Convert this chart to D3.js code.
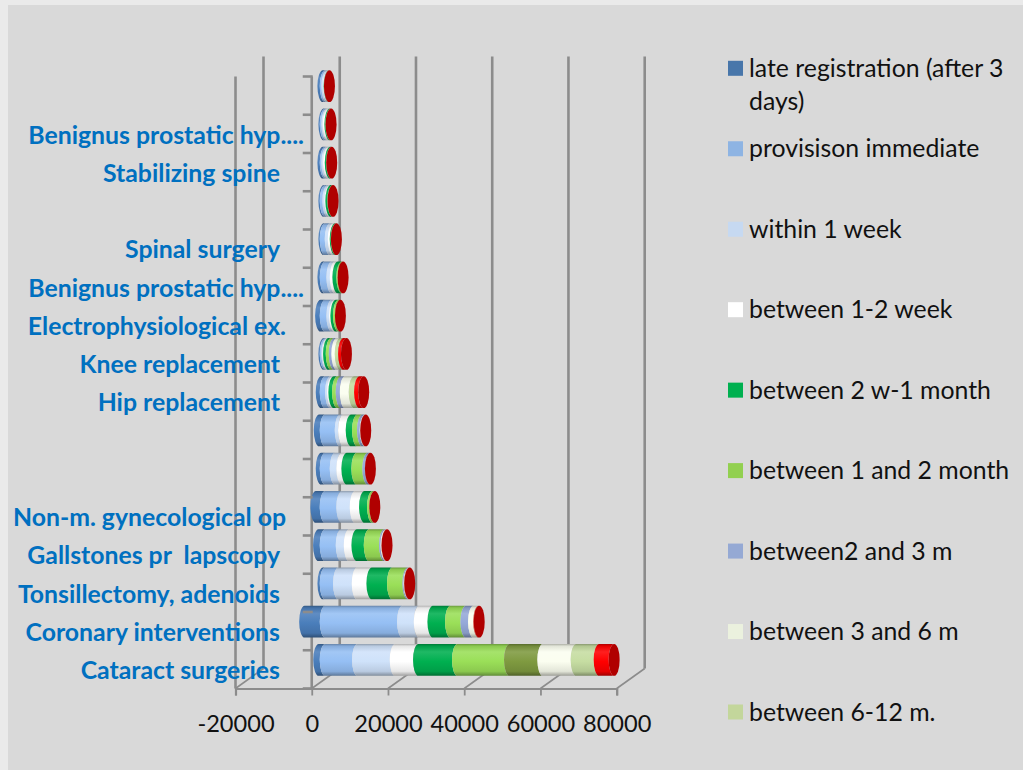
<!DOCTYPE html>
<html>
<head>
<meta charset="utf-8">
<script src="https://cdn.jsdelivr.net/npm/d3@7"></script>
<style>
html,body{margin:0;padding:0;background:#EAEAEA;}
svg{display:block;}
text{white-space:pre;}
</style>
</head>
<body>
<svg id="chart" width="1023" height="770"></svg>
<script>
// Waiting times per procedure, lowest row first
const categories = ["Cataract surgeries","Coronary interventions","Tonsillectomy, adenoids","Gallstones pr  lapscopy","Non-m. gynecological op","","","Hip replacement","Knee replacement","Electrophysiological ex.","Benignus prostatic hyp....","Spinal surgery","","Stabilizing spine","Benignus prostatic hyp....",""];
const labelInset = [24,24,24,24,18,24,24,24,24,18,0,24,24,24,0,24];

const lateRegistration = [-1700,-5400,-600,-1750,-2450,-1050,-1570,-1050,-350,-1220,-610,-350,-350,-610,-350,-610];
const provisionImmediate = [8470,20280,3490,4200,4370,2620,3930,1400,440,1750,1750,1310,700,440,440,440];
const withinOneWeek = [9890,4380,4900,2100,3500,1750,870,520,260,700,870,790,520,440,350,440];
const oneToTwoWeeks = [6110,3590,3860,2020,2450,1310,2010,350,175,350,700,520,260,440,440,130];
const twoWeeksToMonth = [10230,4620,5400,3230,2100,2620,1660,960,700,700,1050,260,520,350,260,80];
const oneToTwoMonths = [13640,4040,4040,4010,570,2880,1310,960,790,480,300,40,40,20,30,0];
const twoToThreeMonths = [8760,1990,300,400,0,660,700,1050,700,0,0,0,0,0,0,0];
const threeToSixMonths = [8730,1310,100,200,0,0,100,2360,875,0,0,0,0,0,0,0];
const sixToTwelveMonths = [6030,80,50,30,0,0,40,1400,875,0,0,0,0,0,0,0];
const overTwelveMonths = [3930,100,20,20,10,10,0,1090,750,0,10,10,10,10,10,10];

const seriesNames = ["late registration (after 3 days)","provisison immediate","within 1 week","between 1-2 week","between 2 w-1 month","between 1 and 2 month","between2 and 3 m","between 3 and 6 m","between 6-12 m.","over 12 m."];
const seriesValues = [lateRegistration,provisionImmediate,withinOneWeek,oneToTwoWeeks,twoWeeksToMonth,oneToTwoMonths,twoToThreeMonths,threeToSixMonths,sixToTwelveMonths,overTwelveMonths];
const barColors = ["#4A7EBB","#95BFF4","#CFE2FA","#FFFFFF","#00B050","#9ADF58","#95A9D8","#FBFEF0","#C6DDA2","#FF0000"];
const legendColors = ["#4876AA","#8EB4E3","#C6D9F1","#FFFFFF","#00B050","#92D050","#95A9D4","#EBF1DE","#C3D69B"];
const xTicks = [-20000,0,20000,40000,60000,80000];

// Cataract row uses an olive fill for its 2-3 month stretch
const pointOverride = {"0-6":"#7F9A40"};

const depth = {dx:28, dy:-20};
const frame = {left:235.5, right:616.7, top:76.5, bottom:688.5};
const capRx = 5.5;
const gridColor = "#8C8C8C";

const svg = d3.select("#chart");
svg.append("rect").attr("x",8).attr("y",5).attr("width",1015).attr("height",765).attr("fill","#D9D9D9");

const x = d3.scaleLinear().domain([-20000,80000]).range([frame.left,frame.right]);
const y = d3.scaleBand().domain(d3.range(categories.length)).range([frame.bottom,frame.top]).paddingInner(0.165).paddingOuter(0.0825);

// Bars sit halfway into the chart's depth
const barX = v => x(v) + 13.5;
const barY = i => y(i) + depth.dy/2 + 0.5;

// Cylinder shading: dark rims with a highlight above the middle
const defs = svg.append("defs");
function shade(id,color){
  const dark = d3.interpolateRgb(color,"#000"), light = d3.interpolateRgb(color,"#fff");
  const g = defs.append("linearGradient").attr("id",id).attr("x1",0).attr("y1",0).attr("x2",0).attr("y2",1);
  [[0,dark(0.32)],[0.07,dark(0.1)],[0.25,light(0.12)],[0.55,color],[0.86,dark(0.1)],[1,dark(0.38)]]
    .forEach(([o,c])=>g.append("stop").attr("offset",o).attr("stop-color",c));
}
barColors.forEach((c,k)=>shade("s"+k,c));
Object.entries(pointOverride).forEach(([key,c])=>shade("o"+key,c));

// Floor and walls
const grid = svg.append("g").attr("stroke",gridColor).attr("stroke-width",2.6).attr("fill","none");
xTicks.forEach(t=>{
  grid.append("line").attr("x1",x(t)).attr("y1",frame.bottom).attr("x2",x(t)+depth.dx).attr("y2",frame.bottom+depth.dy).attr("stroke-width",1.6);
  grid.append("line").attr("x1",x(t)+depth.dx).attr("y1",frame.bottom+depth.dy).attr("x2",x(t)+depth.dx).attr("y2",frame.top+depth.dy);
});
grid.append("line").attr("x1",frame.left).attr("y1",frame.bottom).attr("x2",frame.left).attr("y2",frame.top);
grid.append("line").attr("x1",x(0)).attr("y1",frame.bottom).attr("x2",x(0)).attr("y2",frame.top);

// Category labels
const labels = svg.append("g").attr("font-family","Lato").attr("font-weight",700).attr("font-size",24.8).attr("fill","#0070C0").attr("text-anchor","end");
categories.forEach((c,i)=>{
  if(!c) return;
  labels.append("text").attr("x",304-labelInset[i]).attr("y",y(i)+y.bandwidth()/2+1).attr("dy","0.35em").text(c);
});

// Stacked cylinders, negatives running left of zero
const stackRows = categories.map((c,i)=>Object.fromEntries(seriesValues.map((s,k)=>[k,s[i]])));
const stacked = d3.stack().keys(seriesValues.map((s,k)=>k)).offset(d3.stackOffsetDiverging)(stackRows);
const ry = y.bandwidth()/2;
const bars = svg.append("g");
categories.forEach((c,i)=>{
  const top = barY(i), bot = top + y.bandwidth();
  let end = 0;
  stacked.forEach((layer,k)=>{
    const lo = Math.min(layer[i][0],layer[i][1]), hi = Math.max(layer[i][0],layer[i][1]);
    end = Math.max(end,hi);
    if(hi===lo) return;
    const x0 = barX(lo), x1 = barX(hi);
    const key = i+"-"+k;
    const d = `M${x0},${top}A${capRx},${ry} 0 0 0 ${x0},${bot}L${x1},${bot}A${capRx},${ry} 0 0 1 ${x1},${top}Z`;
    bars.append("path").attr("d",d).attr("fill",pointOverride[key]?`url(#o${key})`:`url(#s${k})`);
  });
  bars.append("ellipse").attr("cx",barX(end)).attr("cy",(top+bot)/2).attr("rx",capRx).attr("ry",ry).attr("fill","#B00000");
});

// Category ticks on the zero wall
const ticks = svg.append("g").attr("stroke",gridColor).attr("stroke-width",2.6);
d3.range(categories.length+1).forEach(n=>{
  const ty = frame.bottom - n*y.step();
  ticks.append("line").attr("x1",x(0)-9).attr("x2",x(0)+1).attr("y1",ty).attr("y2",ty);
});

// Value axis along the front edge
const axis = svg.append("g").attr("transform",`translate(0,${frame.bottom})`)
  .call(d3.axisBottom(x).tickValues(xTicks).tickSize(7).tickPadding(20).tickFormat(d=>String(d)));
axis.selectAll("path,line").attr("stroke",gridColor).attr("stroke-width",1.8);
axis.select(".domain").attr("stroke-width",2.2);
axis.selectAll("text").attr("font-family","Lato").attr("font-size",23.6).attr("fill","#111");

// Legend
const legendRow = d3.scaleLinear().domain([0,8]).range([68.3,712]);
const legend = svg.append("g").attr("font-family","Lato").attr("font-size",24.8).attr("fill","#111");
const legendLines = [["late registration (after 3","days)"]].concat(seriesNames.slice(1,9).map(n=>[n]));
legendLines.forEach((lines,k)=>{
  const cy = legendRow(k);
  legend.append("rect").attr("x",728).attr("y",cy-7.5).attr("width",15).attr("height",15).attr("fill",legendColors[k]);
  lines.forEach((t,j)=>legend.append("text").attr("x",749).attr("y",cy+j*33).attr("dy","0.35em").text(t));
});
</script>
</body>
</html>
